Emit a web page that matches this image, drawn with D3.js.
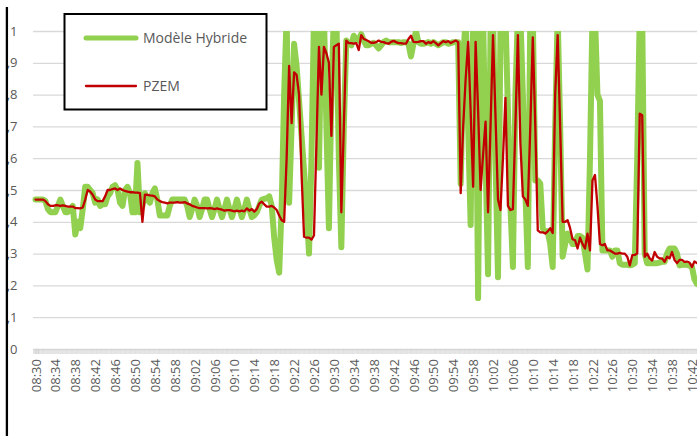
<!DOCTYPE html>
<html>
<head>
<meta charset="utf-8">
<script src="https://cdn.jsdelivr.net/npm/d3@7/dist/d3.min.js"></script>
<style>
  body { margin: 0; background: #fff; }
  text { font-family: "Open Sans", "DejaVu Sans", sans-serif; }
</style>
</head>
<body>
<svg id="chart" width="697" height="436"></svg>
<script>
// readings every 30 s, 08:30:00 -> 10:43:00
var hybride = [
  .47, .47, .47, .47, .465, .44, .43, .43, .43, .45,
  .47, .45, .43, .43, .44, .45, .36, .40, .38, .44,
  .51, .51, .50, .49, .46, .47, .45, .455, .455, .48,
  .49, .51, .515, .50, .46, .45, .50, .51, .49, .43,
  .43, .585, .43, .45, .49, .47, .46, .49, .505, .47,
  .42, .42, .42, .42, .45, .47, .47, .47, .47, .47,
  .47, .45, .415, .44, .47, .45, .415, .44, .47, .47,
  .44, .415, .44, .47, .44, .415, .44, .47, .44, .415,
  .44, .47, .44, .415, .44, .47, .44, .415, .42, .43,
  .45, .47, .472, .474, .48, .45, .35, .28, .24, .45,
  .80, 1.05, .46, .70, .96, .89, .78, .67, .56, .45,
  .30, .60, 1.05, 1.05, .57, 1.05, 1.05, .70, .38, .80,
  1.05, 1.05, .60, .32, .70, .97, .96, .955, .985, .975,
  .97, .99, .97, .955, .955, .96, .963, .955, .945, .955,
  .965, .97, .965, .965, .965, .965, .965, .962, .965, .965,
  .96, .92, .96, 1.0, .965, .96, .96, .962, .965, .96,
  .965, .96, .955, .96, .965, .965, .96, .962, .965, .965,
  .965, .52, .90, 1.05, .70, .39, 1.05, 1.05, .16, 1.05,
  1.05, .60, .235, 1.0, 1.05, .60, .226, 1.0, 1.05, 1.05,
  .75, .45, .258, .80, 1.05, 1.05, .80, .50, .258, 1.05,
  1.05, .53, .53, .52, .38, .37, .37, .33, .258, .70,
  1.05, .70, .29, .33, .363, .35, .33, .33, .355, .355,
  .35, .30, .25, .60, 1.05, 1.05, .80, .78, .31, .31,
  .31, .31, .29, .31, .31, .27, .265, .265, .265, .263,
  .265, .27, .60, 1.05, 1.05, .30, .27, .27, .27, .27,
  .27, .272, .274, .274, .30, .316, .316, .316, .30, .263,
  .265, .265, .265, .262, .258, .22, .205
]
var pzem = [
  .47, .47, .47, .47, .465, .455, .45, .45, .452, .452,
  .45, .452, .45, .448, .448, .448, .443, .443, .442, .445,
  .47, .50, .495, .485, .47, .465, .465, .465, .48, .50,
  .50, .503, .505, .50, .505, .50, .497, .495, .493, .493,
  .492, .492, .49, .40, .485, .485, .483, .482, .48, .47,
  .465, .462, .46, .458, .46, .46, .46, .462, .46, .46,
  .462, .458, .455, .45, .448, .445, .443, .443, .443, .442,
  .443, .442, .44, .442, .44, .438, .435, .437, .437, .435,
  .433, .435, .433, .435, .433, .442, .435, .44, .432, .44,
  .458, .463, .455, .448, .448, .45, .445, .437, .42, .405,
  .40, .60, .89, .71, .87, .862, .80, .55, .353, .35,
  .35, .344, .357, .65, .95, .80, .95, .93, .90, .67,
  .95, .955, .96, .43, .70, .97, .962, .962, .96, .962,
  .94, .987, .975, .972, .968, .963, .963, .965, .97, .966,
  .965, .962, .96, .966, .969, .965, .962, .962, .96, .96,
  .975, .985, .966, .965, .966, .968, .968, .96, .965, .962,
  .968, .962, .955, .962, .968, .965, .968, .962, .966, .97,
  .965, .49, .70, .85, .966, .75, .51, .966, .75, .50,
  .61, .715, .43, .70, .987, .73, .47, .437, .60, .79,
  .45, .437, .44, .70, .987, .65, .48, .47, .45, .70,
  .98, .70, .373, .367, .367, .363, .37, .38, .365, .80,
  .987, .70, .40, .40, .405, .38, .345, .342, .316, .35,
  .33, .316, .363, .31, .53, .547, .45, .33, .326, .33,
  .31, .31, .305, .30, .30, .302, .30, .30, .29, .263,
  .295, .296, .30, .74, .735, .29, .30, .285, .278, .305,
  .29, .285, .285, .274, .29, .285, .305, .28, .27, .28,
  .28, .274, .275, .272, .258, .275, .27
]
var tickLabels = ["08:30", "08:34", "08:38", "08:42", "08:46", "08:50", "08:54", "08:58",
  "09:02", "09:06", "09:10", "09:14", "09:18", "09:22", "09:26", "09:30", "09:34",
  "09:38", "09:42", "09:46", "09:50", "09:54", "09:58", "10:02", "10:06", "10:10",
  "10:14", "10:18", "10:22", "10:26", "10:30", "10:34", "10:38", "10:42"]
var yTicks = [0, .1, .2, .3, .4, .5, .6, .7, .8, .9, 1]

var fmt = d3.timeFormat("%H:%M:%S")
var t0 = new Date(2020, 0, 1, 8, 30, 0)
var categories = hybride.map(function (d, i) { return fmt(d3.timeSecond.offset(t0, i * 30)) })

var svg = d3.select("#chart")
const left = 33, right = 697
const step = 2.4865

var x = d3.scalePoint()
    .domain(categories)
    .range([35.5, 35.5 + step * (categories.length - 1)])
var y = d3.scaleLinear().domain([0, 1]).range([349, 31])

// seconds scale, only used for the dense tick band under the plot
var sec = d3.scaleLinear().domain([0, 30]).range([35.5, 35.5 + step])

var defs = svg.append("defs")
defs.append("clipPath").attr("id", "plotclip")
    .append("rect").attr("x", 0).attr("y", y(1)).attr("width", 697).attr("height", 436)
defs.append("clipPath").attr("id", "labelclip")
    .append("rect").attr("x", 8).attr("y", 0).attr("width", 689).attr("height", 436)

// y gridlines + labels (outer group clipped, so the cut-off left edge shows)
var yAxis = d3.axisLeft(y)
    .tickValues(yTicks)
    .tickSize(-(right - left))
    .tickPadding(15.5)
    .tickFormat(function (d) { return d === 0 || d === 1 ? String(d) : d3.format(".1f")(d).replace(".", ",") })

var gy = svg.append("g")
    .attr("clip-path", "url(#labelclip)")
    .append("g")
    .attr("transform", "translate(" + left + ",0)")
    .call(yAxis)
gy.select(".domain").remove()
gy.selectAll(".tick line").attr("stroke", "#d9d9d9").attr("stroke-width", 1.3)
gy.selectAll(".tick text")
    .style("font-size", "13px")
    .attr("fill", "#595959")

// dense tick band on the baseline
var band = d3.axisBottom(sec)
    .tickValues(d3.range(-30, 266 * 30 + 31, 10))
    .tickSize(5)
    .tickFormat("")
var gb = svg.append("g").attr("transform", "translate(0," + y(0) + ")").call(band)
gb.select(".domain").attr("stroke", "#d9d9d9").attr("stroke-width", 1.3)
gb.selectAll(".tick line").attr("stroke", "#d4d4d4").attr("stroke-width", 0.6)

// time labels
var labelAxis = d3.axisBottom(x)
    .tickValues(tickLabels.map(function (t) { return t + ":00" }))
    .tickSize(0)
    .tickFormat(function (d) { return d.slice(0, 5) })
var gx = svg.append("g").attr("transform", "translate(0,359)").call(labelAxis)
gx.select(".domain").remove()
gx.selectAll(".tick text")
    .attr("transform", "rotate(-90)")
    .attr("text-anchor", "end")
    .attr("x", 0)
    .attr("y", 0)
    .attr("dy", "0.35em")
    .style("font-size", "13px")
    .attr("fill", "#595959")

// series
var line = d3.line()
    .x(function (d, i) { return x(categories[i]) })
    .y(function (d) { return y(d) })

var plot = svg.append("g").attr("clip-path", "url(#plotclip)")
plot.append("path")
    .datum(hybride)
    .attr("d", line)
    .attr("fill", "none")
    .attr("stroke", "#92D050")
    .attr("stroke-width", 6)
    .attr("stroke-linejoin", "round")
    .attr("stroke-linecap", "round")
plot.append("path")
    .datum(pzem)
    .attr("d", line)
    .attr("fill", "none")
    .attr("stroke", "#C00000")
    .attr("stroke-width", 2.3)
    .attr("stroke-linejoin", "round")
    .attr("stroke-linecap", "round")

// legend
var legend = svg.append("g")
legend.append("rect")
    .attr("x", 64.5).attr("y", 14)
    .attr("width", 202).attr("height", 95.5)
    .attr("fill", "#fff")
    .attr("stroke", "#000")
    .attr("stroke-width", 2)
var items = [
  { name: "Modèle Hybride", color: "#92D050", w: 5, cy: 38 },
  { name: "PZEM", color: "#C00000", w: 2.3, cy: 86 }
]
items.forEach(function (it) {
  legend.append("line")
      .attr("x1", 86).attr("x2", 136)
      .attr("y1", it.cy).attr("y2", it.cy)
      .attr("stroke", it.color)
      .attr("stroke-width", it.w)
      .attr("stroke-linecap", "round")
  legend.append("text")
      .attr("x", 143).attr("y", it.cy)
      .attr("dy", "0.36em")
      .style("font-size", "14px")
      .attr("fill", "#595959")
      .text(it.name)
})

// left frame edge
svg.append("line")
    .attr("x1", 6.9).attr("x2", 6.9)
    .attr("y1", 7).attr("y2", 436)
    .attr("stroke", "#000")
    .attr("stroke-width", 2.3)
</script>
</body>
</html>
